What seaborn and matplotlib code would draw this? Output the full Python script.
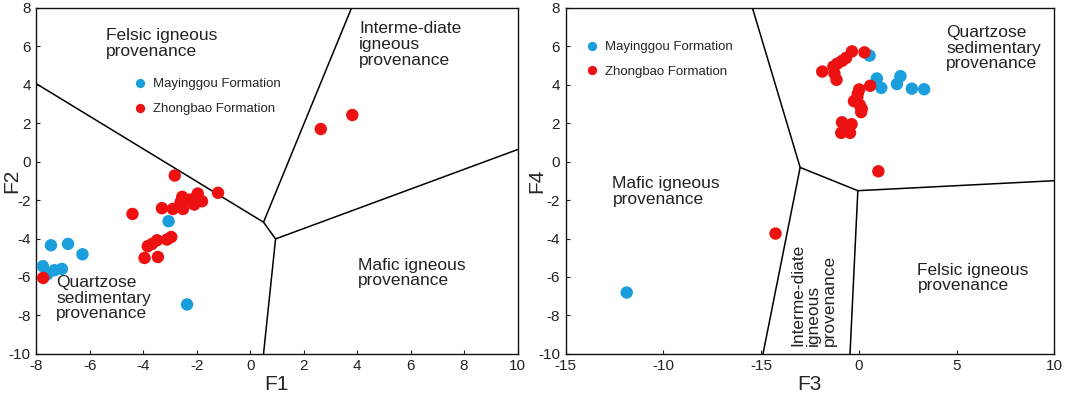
import numpy as np
import pandas as pd
import seaborn as sns
import matplotlib.pyplot as plt

# F1-F2 discriminant scores (left panel)
may_f1 = [-7.45, -6.81, -6.27, -7.75, -7.58, -7.32, -7.04, -3.05, -2.36]
may_f2 = [-4.35, -4.28, -4.82, -5.44, -5.85, -5.65, -5.58, -3.10, -7.43]
zhb_f1 = [-2.82, -1.20, -2.54, -1.96, -4.40, -3.30, -2.89, -2.51, -2.24, -2.09, -1.80,
          -2.60, -3.83, -3.67, -3.48, -3.11, -2.95, -3.95, -3.45, -7.74, 2.64, 3.82]
zhb_f2 = [-0.72, -1.62, -1.83, -1.66, -2.72, -2.42, -2.46, -2.46, -1.97, -2.23, -2.06,
          -2.10, -4.40, -4.28, -4.09, -4.05, -3.92, -5.01, -4.96, -6.05, 1.70, 2.43]

# F3-F4 discriminant scores (right panel)
may_f3 = [0.55, 0.92, 1.15, 1.95, 2.13, 2.71, 3.34, -11.87]
may_f4 = [5.52, 4.33, 3.84, 4.04, 4.45, 3.80, 3.77, -6.81]
zhb_f3 = [-4.26, 1.00, -1.87, -1.30, -1.10, -0.85, -0.65, -0.35, 0.29, -1.14, -1.25,
          0.02, 0.58, -0.25, -0.08, 0.05, 0.15, 0.12, -0.05, -0.86, -0.37, -0.90, -0.45, -0.65]
zhb_f4 = [-3.74, -0.50, 4.69, 4.95, 5.10, 5.25, 5.40, 5.74, 5.69, 4.26, 4.60,
          3.76, 3.95, 3.15, 3.35, 2.95, 2.75, 2.58, 3.55, 2.05, 1.95, 1.50, 1.50, 1.75]

formations = ['Mayinggou Formation', 'Zhongbao Formation']
colors = {'Mayinggou Formation': '#1a9fdc', 'Zhongbao Formation': '#ee1111'}

# field boundaries (discriminant diagram)
left_bounds = [
    ([-8, 0.5, 0.95, 0.5], [4.06, -3.15, -4.02, -10]),
    ([0.5, 3.79], [-3.15, 8]),
    ([0.95, 10], [-4.02, 0.63]),
]
right_bounds = [
    ([-5.44, -3.0, -0.05, 10], [8, -0.30, -1.51, -0.99]),
    ([-3.0, -4.9], [-0.30, -10]),
    ([-0.05, -0.45], [-1.51, -10]),
]

left_df = pd.DataFrame({
    'x': may_f1 + zhb_f1, 'y': may_f2 + zhb_f2,
    'formation': [formations[0]] * len(may_f1) + [formations[1]] * len(zhb_f1)})
right_df = pd.DataFrame({
    'x': may_f3 + zhb_f3, 'y': may_f4 + zhb_f4,
    'formation': [formations[0]] * len(may_f3) + [formations[1]] * len(zhb_f3)})

sns.set_style('ticks')
plt.rcParams['font.family'] = ['Liberation Sans', 'DejaVu Sans']
plt.rcParams['axes.unicode_minus'] = False

fig = plt.figure(figsize=(10.65, 3.98), dpi=100)
ax1 = fig.add_axes([0.034, 0.111, 0.452, 0.869])
ax2 = fig.add_axes([0.531, 0.111, 0.459, 0.869])

txt = dict(fontsize=12.5, color='#222222', linespacing=1.05)


def draw_panel(ax, df, bounds, xlim, xticks, xlabels, xlab, ylab, leg_xy, ylab_x):
    for bx, by in bounds:
        ax.plot(bx, by, color='black', lw=1.1, zorder=1)
    sns.scatterplot(data=df, x='x', y='y', hue='formation', hue_order=formations,
                    palette=colors, s=80, edgecolor='none', ax=ax, zorder=3)
    ax.set_xlim(*xlim)
    ax.set_ylim(-10, 8)
    ax.set_xticks(xticks)
    ax.set_xticklabels(xlabels)
    ax.set_yticks(range(-10, 9, 2))
    ax.tick_params(direction='in', length=3, width=0.8, labelsize=11, colors='#222222', pad=4)
    ax.set_xlabel(xlab, fontsize=15, labelpad=1)
    ax.set_ylabel(ylab, fontsize=15)
    ax.yaxis.set_label_coords(ylab_x, 0.5)
    for sp in ax.spines.values():
        sp.set_visible(True)
        sp.set_linewidth(1.0)
        sp.set_color('#111111')
    h, l = ax.get_legend_handles_labels()
    ax.legend(h, l, loc='upper left', bbox_to_anchor=leg_xy, frameon=False,
              fontsize=9.5, markerscale=0.75, handlelength=0.8, handletextpad=0.6,
              labelspacing=0.95, borderaxespad=0)


draw_panel(ax1, left_df, left_bounds, (-8, 10), range(-8, 11, 2),
           [str(v) for v in range(-8, 11, 2)], 'F1', 'F2', (0.193, 0.812), -0.031)
draw_panel(ax2, right_df, right_bounds, (-15, 10), [-15, -10, -5, 0, 5, 10],
           ['-15', '-10', '-15', '0', '5', '10'], 'F3', 'F4', (0.033, 0.92), -0.039)

ax1.text(-5.38, 6.95, 'Felsic igneous\nprovenance', va='top', ha='left', **txt)
ax1.text(4.07, 7.3, 'Interme-diate\nigneous\nprovenance', va='top', ha='left', **txt)
ax1.text(4.03, -5.0, 'Mafic igneous\nprovenance', va='top', ha='left', **txt)
ax1.text(-7.25, -5.9, 'Quartzose\nsedimentary\nprovenance', va='top', ha='left', **txt)

ax2.text(4.47, 7.1, 'Quartzose\nsedimentary\nprovenance', va='top', ha='left', **txt)
ax2.text(-12.6, -0.75, 'Mafic igneous\nprovenance', va='top', ha='left', **txt)
ax2.text(3.0, -5.25, 'Felsic igneous\nprovenance', va='top', ha='left', **txt)
ax2.text(-2.3, -9.6, 'Interme-diate\nigneous\nprovenance', rotation=90,
         rotation_mode='anchor', va='center', ha='left', **txt)

fig.savefig('out.png', dpi=100)
